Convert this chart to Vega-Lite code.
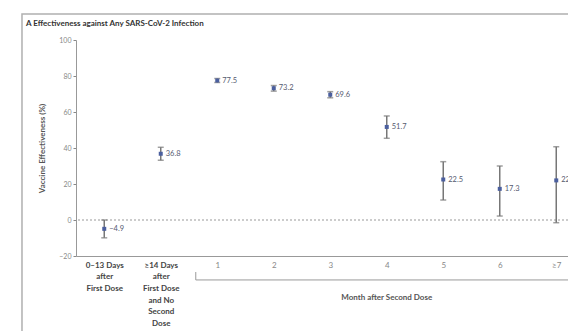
{
  "$schema": "https://vega.github.io/schema/vega-lite/v6.json",
  "autosize": "none",
  "padding": {"left": 76, "top": 40, "right": 0, "bottom": 75},
  "width": 492,
  "height": 216,
  "background": "white",
  "config": {"view": {"stroke": null}, "font": "Lato", "axis": {"labelOverlap": false}, "axisY": {"tickCount": 7, "labelOverlap": false}},
  "title": {"text": "A  Effectiveness against Any SARS-CoV-2 Infection", "anchor": "start", "frame": "group", "dx": -50, "offset": -15, "fontSize": 8, "fontWeight": "bold", "color": "#333", "font": "Lato"},
  "datasets": {
    "est": [
      {"idx": 0, "ve": -4.9, "lo": -9.9, "hi": 0.0, "label": "−4.9"},
      {"idx": 1, "ve": 36.8, "lo": 33.2, "hi": 40.4, "label": "36.8"},
      {"idx": 2, "ve": 77.5, "lo": 76.4, "hi": 78.6, "label": "77.5"},
      {"idx": 3, "ve": 73.2, "lo": 71.6, "hi": 74.7, "label": "73.2"},
      {"idx": 4, "ve": 69.6, "lo": 67.9, "hi": 71.3, "label": "69.6"},
      {"idx": 5, "ve": 51.7, "lo": 45.4, "hi": 57.8, "label": "51.7"},
      {"idx": 6, "ve": 22.5, "lo": 11.1, "hi": 32.4, "label": "22.5"},
      {"idx": 7, "ve": 17.3, "lo": 2.2, "hi": 30.0, "label": "17.3"},
      {"idx": 8, "ve": 22.0, "lo": -1.5, "hi": 40.7, "label": "22.0"}
    ],
    "frame": [{"x": -1.456, "x2": 10, "y": 114.4, "y2": -120}],
    "bracket": [{"x": 1.62, "x2": 8.6, "y": -33.3, "y2": -28.9, "tx": 5.0, "ty": -43.3, "text": "Month after Second Dose"}],
    "zero": [{"y": 0}]
  },
  "layer": [
    {
      "data": {"name": "frame"},
      "mark": {"type": "rect", "fill": null, "stroke": "#b0b0b0", "strokeWidth": 1.5, "clip": false},
      "encoding": {
        "x": {"field": "x", "type": "quantitative", "scale": {"domain": [-0.5, 8.208], "nice": false, "zero": false},
          "axis": {"values": [0, 1, 2, 3, 4, 5, 6, 7, 8], "title": null, "grid": false, "ticks": false, "domainColor": "#999", "domainWidth": 1, "labelOverlap": false,
            "labelExpr": "datum.value == 0 ? ['0–13 Days', 'after', 'First Dose'] : datum.value == 1 ? ['≥14 Days', 'after', 'First Dose', 'and No', 'Second', 'Dose'] : datum.value == 8 ? '≥7' : '' + (datum.value - 1)",
            "labelFontSize": 8, "labelLineHeight": 11.7, "labelPadding": 5, "labelBaseline": "top", "labelFont": "Lato",
            "labelFontWeight": {"condition": {"test": "datum.value < 2", "value": "bold"}, "value": "normal"},
            "labelColor": {"condition": {"test": "datum.value < 2", "value": "#444"}, "value": "#888"}}},
        "x2": {"field": "x2"},
        "y": {"field": "y", "type": "quantitative", "scale": {"domain": [-20, 100], "nice": false, "zero": false},
          "axis": {"values": [-20, 0, 20, 40, 60, 80, 100], "tickCount": 7, "labelOverlap": false, "labelSeparation": 0, "title": "Vaccine Effectiveness (%)", "grid": false, "tickSize": 3, "tickColor": "#888", "domainColor": "#999", "labelFontSize": 7, "labelColor": "#888", "labelPadding": 2, "titleFontSize": 8, "titleFontWeight": "bold", "titleColor": "#555", "titlePadding": 12, "titleFont": "Lato"}},
        "y2": {"field": "y2"}
      }
    },
    {
      "data": {"name": "zero"},
      "mark": {"type": "rule", "stroke": "#999", "strokeDash": [2, 2], "strokeWidth": 1},
      "encoding": {"y": {"field": "y", "type": "quantitative"}}
    },
    {
      "data": {"name": "est"},
      "mark": {"type": "rule", "stroke": "#777", "strokeWidth": 1.5},
      "encoding": {
        "x": {"field": "idx", "type": "quantitative"},
        "y": {"field": "lo", "type": "quantitative"},
        "y2": {"field": "hi"}
      }
    },
    {
      "data": {"name": "est"},
      "mark": {"type": "tick", "orient": "horizontal", "color": "#777", "size": 6, "thickness": 1.5},
      "encoding": {"x": {"field": "idx", "type": "quantitative"}, "y": {"field": "lo", "type": "quantitative"}}
    },
    {
      "data": {"name": "est"},
      "mark": {"type": "tick", "orient": "horizontal", "color": "#777", "size": 6, "thickness": 1.5},
      "encoding": {"x": {"field": "idx", "type": "quantitative"}, "y": {"field": "hi", "type": "quantitative"}}
    },
    {
      "data": {"name": "est"},
      "mark": {"type": "point", "shape": "square", "filled": true, "size": 16, "color": "#4b5f9e", "opacity": 1},
      "encoding": {"x": {"field": "idx", "type": "quantitative"}, "y": {"field": "ve", "type": "quantitative"}}
    },
    {
      "data": {"name": "est"},
      "mark": {"type": "text", "align": "left", "baseline": "middle", "dx": 5, "fontSize": 7.5, "color": "#555a70", "font": "Lato", "clip": false},
      "encoding": {"x": {"field": "idx", "type": "quantitative"}, "y": {"field": "ve", "type": "quantitative"}, "text": {"field": "label"}}
    },
    {
      "data": {"name": "bracket"},
      "mark": {"type": "rule", "stroke": "#999", "strokeWidth": 1, "clip": false},
      "encoding": {"x": {"field": "x", "type": "quantitative"}, "x2": {"field": "x2"}, "y": {"field": "y", "type": "quantitative"}}
    },
    {
      "data": {"name": "bracket"},
      "mark": {"type": "rule", "stroke": "#999", "strokeWidth": 1, "clip": false},
      "encoding": {"x": {"field": "x", "type": "quantitative"}, "y": {"field": "y", "type": "quantitative"}, "y2": {"field": "y2"}}
    },
    {
      "data": {"name": "bracket"},
      "mark": {"type": "text", "fontSize": 8, "fontWeight": "bold", "color": "#555", "font": "Lato", "clip": false},
      "encoding": {"x": {"field": "tx", "type": "quantitative"}, "y": {"field": "ty", "type": "quantitative"}, "text": {"field": "text"}}
    }
  ]
}
